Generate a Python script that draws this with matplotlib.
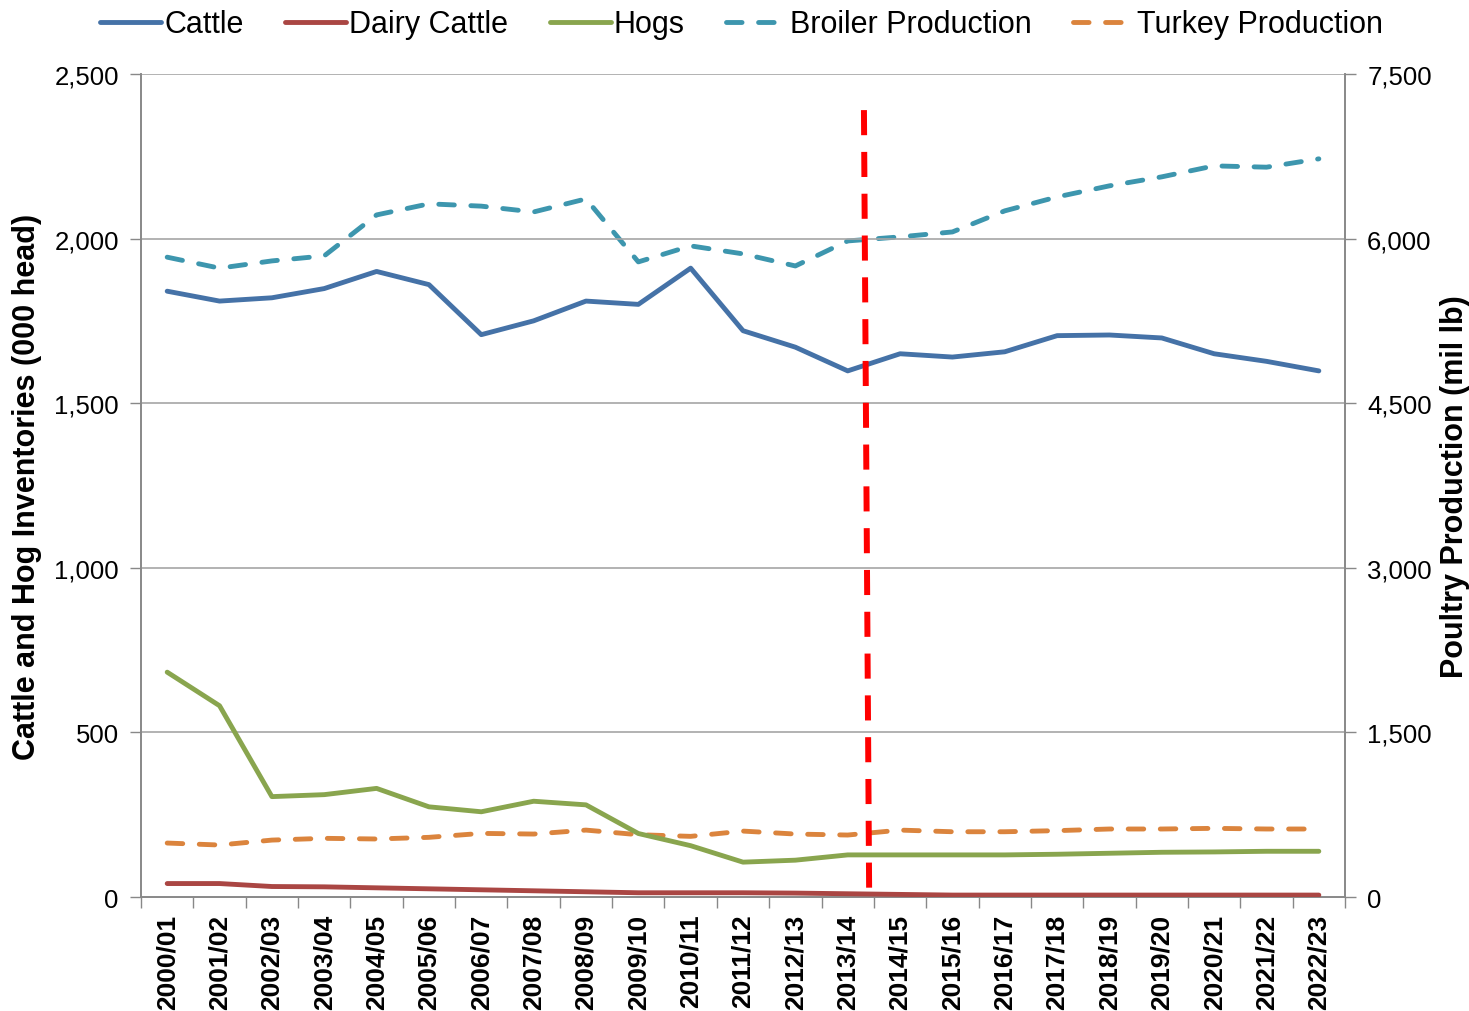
import matplotlib
matplotlib.use("Agg")
import matplotlib.pyplot as plt
from matplotlib.ticker import FuncFormatter, FixedLocator

plt.rcParams['font.family'] = ['Liberation Sans', 'DejaVu Sans']

years = ["2000/01", "2001/02", "2002/03", "2003/04", "2004/05", "2005/06", "2006/07",
         "2007/08", "2008/09", "2009/10", "2010/11", "2011/12", "2012/13", "2013/14",
         "2014/15", "2015/16", "2016/17", "2017/18", "2018/19", "2019/20", "2020/21",
         "2021/22", "2022/23"]

cattle = [1840, 1810, 1820, 1848, 1900, 1860, 1708, 1750, 1810, 1800, 1910, 1720,
          1670, 1598, 1650, 1640, 1656, 1705, 1707, 1698, 1650, 1627, 1598]
dairy = [41, 41, 32, 31, 28, 25, 22, 19, 16, 13, 13, 13, 12, 10, 8, 6, 6, 6, 6, 6, 6, 6, 6]
hogs = [683, 581, 305, 311, 330, 274, 259, 291, 280, 193, 156, 106, 112, 128,
        128, 128, 128, 130, 133, 136, 137, 139, 139]
broiler = [5830, 5730, 5796, 5842, 6215, 6316, 6295, 6242, 6361, 5787, 5933, 5860,
           5750, 5978, 6015, 6060, 6252, 6379, 6480, 6562, 6662, 6650, 6726]
turkey = [492, 474, 519, 535, 529, 544, 580, 574, 610, 568, 553, 601, 574, 565,
          610, 595, 595, 605, 620, 620, 626, 620, 620]

# divider annotation (category-index / left-axis units)
divider_x = [13.31, 13.41]
divider_y = [2390, 0]

c_cattle = "#4572A7"
c_dairy = "#AA4643"
c_hogs = "#89A54E"
c_broiler = "#3D96AE"
c_turkey = "#DB843D"

fig = plt.figure(figsize=(14.69, 10.12), dpi=100)
ax = fig.add_axes([0.096, 0.1126, 0.8196, 0.8134])
ax2 = ax.twinx()

x = list(range(len(years)))
lw = 3.5

l1, = ax.plot(x, cattle, color=c_cattle, lw=lw, solid_capstyle='round', solid_joinstyle='round', label="Cattle", zorder=5)
l2, = ax.plot(x, dairy, color=c_dairy, lw=lw, solid_capstyle='round', solid_joinstyle='round', label="Dairy Cattle", zorder=5)
l3, = ax.plot(x, hogs, color=c_hogs, lw=lw, solid_capstyle='round', solid_joinstyle='round', label="Hogs", zorder=5)
l4, = ax2.plot(x, broiler, color=c_broiler, lw=lw, dashes=(3.2, 3.4), dash_capstyle='round', label="Broiler Production", zorder=5)
l5, = ax2.plot(x, turkey, color=c_turkey, lw=lw, dashes=(3.2, 3.4), dash_capstyle='round', label="Turkey Production", zorder=5)

ax.plot(divider_x, divider_y, color="#FF0000", lw=4.3, dashes=(4.2, 2.8), zorder=6)

ax.set_xlim(-0.5, len(years) - 0.5)
ax.set_ylim(0, 2500)
ax2.set_ylim(0, 7500)
ax.set_zorder(ax2.get_zorder() + 1)
ax.patch.set_visible(False)

ax.set_yticks([0, 500, 1000, 1500, 2000, 2500])
ax2.set_yticks([0, 1500, 3000, 4500, 6000, 7500])
fmt = FuncFormatter(lambda v, p: f"{int(v):,}")
ax.yaxis.set_major_formatter(fmt)
ax2.yaxis.set_major_formatter(fmt)

ax.set_xticks(x)
ax.set_xticklabels(years, rotation=90, fontsize=19, fontweight='bold')
ax.xaxis.set_minor_locator(FixedLocator([i - 0.5 for i in range(len(years) + 1)]))
ax.tick_params(axis='x', which='major', length=0, pad=12)
ax.tick_params(axis='x', which='minor', length=8, color='#888888', width=1, direction='out')
ax.tick_params(axis='y', length=8, color='#888888', width=1, labelsize=18.5, pad=8)
ax2.tick_params(axis='y', length=8, color='#888888', width=1, labelsize=18.5, pad=8)

ax.grid(axis='y', color='#A6A6A6', lw=1.2)
ax.set_axisbelow(True)

for a in (ax, ax2):
    a.spines['top'].set_visible(False)
    for s in ('left', 'right', 'bottom'):
        a.spines[s].set_color('#888888')
        a.spines[s].set_linewidth(1.2)

ax.set_ylabel("Cattle and Hog Inventories (000 head)", fontsize=22, fontweight='bold')
ax2.set_ylabel("Poultry Production (mil lb)", fontsize=22, fontweight='bold')
ax.yaxis.set_label_coords(-0.0825, 0.5)
ax2.yaxis.set_label_coords(1.079, 0.5)

fig.legend(handles=[l1, l2, l3, l4, l5], loc='center', bbox_to_anchor=(0.505, 0.975),
           ncol=5, frameon=False, fontsize=22, handlelength=2.0, handletextpad=0.1,
           columnspacing=1.35)

fig.savefig("out.png", dpi=100)
